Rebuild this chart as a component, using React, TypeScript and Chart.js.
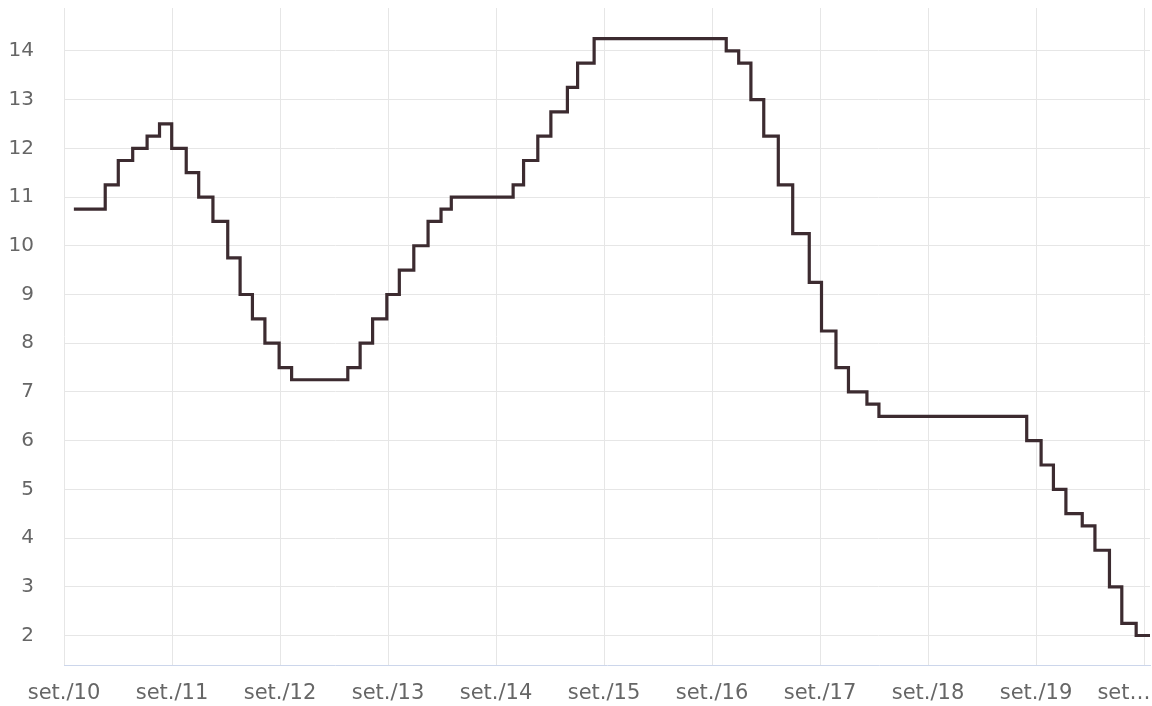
import React, { useEffect, useRef } from "react";
import { Chart, registerables } from "chart.js";

Chart.register(...registerables);

// Selic target rate (% a.a.) — date each new level took effect, and its value
const changeDates: string[] = [
  "2010-10-04", "2011-01-19", "2011-03-02", "2011-04-20", "2011-06-08", "2011-07-20",
  "2011-08-31", "2011-10-19", "2011-11-30", "2012-01-18", "2012-03-07", "2012-04-18",
  "2012-05-30", "2012-07-11", "2012-08-29", "2012-10-10", "2013-04-17", "2013-05-29",
  "2013-07-10", "2013-08-28", "2013-10-09", "2013-11-27", "2014-01-15", "2014-02-26",
  "2014-04-02", "2014-10-29", "2014-12-03", "2015-01-21", "2015-03-04", "2015-04-29",
  "2015-06-03", "2015-07-29", "2016-10-19", "2016-11-30", "2017-01-11", "2017-02-22",
  "2017-04-12", "2017-05-31", "2017-07-26", "2017-09-06", "2017-10-25", "2017-12-06",
  "2018-02-07", "2018-03-18", "2019-07-31", "2019-09-18", "2019-10-30", "2019-12-11",
  "2020-02-05", "2020-03-18", "2020-05-06", "2020-06-17", "2020-08-05", "2020-09-21",
];
const rates: number[] = [
  10.75, 11.25, 11.75, 12.0, 12.25, 12.5,
  12.0, 11.5, 11.0, 10.5, 9.75, 9.0,
  8.5, 8.0, 7.5, 7.25, 7.5, 8.0,
  8.5, 9.0, 9.5, 10.0, 10.5, 10.75,
  11.0, 11.25, 11.75, 12.25, 12.75, 13.25,
  13.75, 14.25, 14.0, 13.75, 13.0, 12.25,
  11.25, 10.25, 9.25, 8.25, 7.5, 7.0,
  6.75, 6.5, 6.0, 5.5, 5.0, 4.5,
  4.25, 3.75, 3.0, 2.25, 2.0, 2.0,
];
const xTickLabels: string[] = [
  "set./10", "set./11", "set./12", "set./13", "set./14", "set./15",
  "set./16", "set./17", "set./18", "set./19", "set…\u00A0\u00A0\u00A0\u00A0\u00A0\u00A0",
];
const yMin = 1.395;
const yMax = 14.88;

// months elapsed since 1 Sep 2010
function monthIndex(d: string): number {
  const [y, m, day] = d.split("-").map(Number);
  const dim = new Date(y, m, 0).getDate();
  return (y - 2010) * 12 + (m - 9) + (day - 1) / dim;
}

export default function App() {
  const ref = useRef<HTMLCanvasElement | null>(null);

  useEffect(() => {
    if (!ref.current) return;
    const points = changeDates.map((d, i) => ({ x: monthIndex(d), y: rates[i] }));
    const xMax = points[points.length - 1].x;
    const chart = new Chart(ref.current, {
      type: "line",
      data: {
        datasets: [
          {
            data: points,
            borderColor: "#3c2b30",
            borderWidth: 3.2,
            stepped: "before",
            pointRadius: 0,
            fill: false,
            borderJoinStyle: "miter",
          },
        ],
      },
      options: {
        responsive: false,
        animation: false,
        layout: { padding: { top: 8, right: 2, left: 0, bottom: 0 } },
        plugins: { legend: { display: false }, tooltip: { enabled: false } },
        scales: {
          x: {
            type: "linear",
            min: 0,
            max: xMax,
            grid: { color: "#e6e6e6", drawTicks: false, lineWidth: 1 },
            border: { display: true, color: "#ccd6eb", width: 1 },
            ticks: {
              stepSize: 12,
              includeBounds: false,
              autoSkip: false,
              maxRotation: 0,
              minRotation: 0,
              padding: 16,
              color: "#666666",
              font: { family: "'DejaVu Sans', sans-serif", size: 21 },
              callback: (v: any) => xTickLabels[Math.round(Number(v) / 12)] ?? "",
            },
            afterFit: (s: any) => {
              s.height = 41;
              s.paddingRight = 0;
              s.paddingLeft = 0;
            },
          },
          y: {
            type: "linear",
            min: yMin,
            max: yMax,
            grid: { color: "#e6e6e6", drawTicks: false, lineWidth: 1 },
            border: { display: false },
            ticks: {
              stepSize: 1,
              includeBounds: false,
              padding: 30,
              color: "#666666",
              font: { family: "'DejaVu Sans', sans-serif", size: 20 },
            },
            afterFit: (s: any) => {
              s.width = 64;
              s.paddingTop = 0;
              s.paddingBottom = 0;
            },
          },
        },
      },
    });
    return () => chart.destroy();
  }, []);

  return (
    <div style={{ position: "fixed", left: 0, top: 0, width: 1152, height: 706, background: "#ffffff" }}>
      <canvas ref={ref} width={1152} height={706} style={{ display: "block" }} />
    </div>
  );
}
